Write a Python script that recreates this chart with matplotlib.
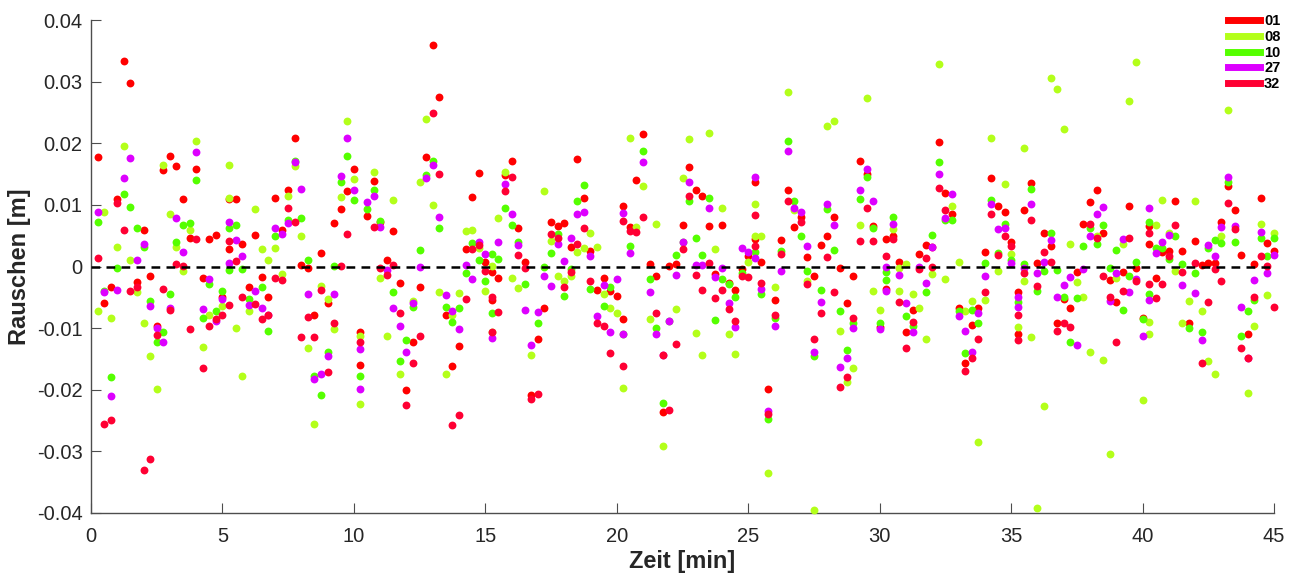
import numpy as np
import matplotlib
matplotlib.use("Agg")
import matplotlib.pyplot as plt
from matplotlib.ticker import FuncFormatter

# Rauschen je Satellit: (Zeit [min], Rauschen [mm])
sat_01 = [(0.25,17.8),(0.5,-6.0),(0.75,-3.3),(1.0,10.9),(1.25,33.3),(1.5,29.8),(1.75,-2.5),(2.0,5.9),(2.25,-1.5),(2.5,-9.6),(2.75,15.6),(3.0,17.9),(3.25,16.3),(3.5,10.9),(3.75,4.6),(4.0,15.8),(4.25,-1.9),(4.5,4.4),(4.75,5.1),(5.0,-4.9),(5.25,10.9),(5.25,2.8),(5.5,10.9),(5.75,3.6),(6.0,-3.3),(6.25,5.1),(6.5,-1.7),(6.75,-4.9),(7.0,11.1),(7.25,6.0),(7.5,12.4),(7.75,20.8),(8.0,0.2),(8.25,-0.3),(8.5,-7.8),(8.75,2.2),(9.0,-5.9),(9.25,7.0),(9.5,9.4),(9.75,12.2),(10.0,15.8),(10.25,-10.6),(10.25,-16.0),(10.5,8.2),(10.75,13.9),(11.0,7.2),(11.25,1.1),(11.5,5.8),(11.75,-2.6),(12.0,-20.0),(12.25,-12.2),(12.5,-3.4),(12.75,17.8),(13.0,36.0),(13.25,27.6),(13.5,-7.8),(13.75,-16.2),(14.0,-12.9),(14.25,2.8),(14.5,11.3),(14.75,15.2),(15.0,0.7),(15.25,-0.9),(15.25,-5.5),(15.5,-1.9),(15.75,14.9),(16.0,17.1),(16.25,6.3),(16.5,0.8),(16.75,-20.9),(17.0,-11.7),(17.25,-6.8),(17.5,7.2),(17.75,6.5),(18.0,7.1),(18.25,3.2),(18.5,17.5),(18.75,11.2),(19.0,2.5),(19.25,-3.8),(19.5,-1.8),(19.75,-4.0),(20.0,-4.8),(20.25,9.8),(20.25,-8.5),(20.5,6.4),(20.75,14.1),(21.0,21.5),(21.25,0.4),(21.5,-1.6),(21.75,-23.6),(22.0,0.1),(22.25,0.4),(22.5,6.8),(22.75,16.2),(23.0,12.5),(23.25,11.4),(23.5,6.5),(23.75,-1.2),(24.0,6.8),(24.25,-2.7),(24.5,-3.8),(24.75,-0.4),(25.0,1.7),(25.25,13.8),(25.25,4.4),(25.5,0.7),(25.75,-19.9),(26.0,-5.4),(26.25,4.3),(26.5,12.4),(26.75,6.4),(27.0,8.0),(27.25,1.6),(27.5,-1.6),(27.75,3.5),(28.0,5.0),(28.25,8.1),(28.5,-0.3),(28.75,-6.0),(29.0,-1.6),(29.25,17.1),(29.5,15.0),(29.75,6.5),(30.0,-9.8),(30.25,4.4),(30.25,-3.6),(30.5,5.0),(30.75,0.7),(31.0,-10.7),(31.25,-7.1),(31.5,2.1),(31.75,3.5),(32.0,3.2),(32.25,20.2),(32.5,11.9),(32.75,8.5),(33.0,-6.7),(33.25,-15.6),(33.5,-9.5),(33.75,-6.7),(34.0,2.4),(34.25,14.4),(34.5,9.8),(34.75,8.9),(35.0,3.9),(35.25,-4.1),(35.25,-11.0),(35.5,9.2),(35.75,13.5),(36.0,0.6),(36.25,5.4),(36.5,3.3),(36.75,-9.1),(37.0,-5.3),(37.25,-6.8),(37.5,-0.9),(37.75,6.9),(38.0,10.5),(38.25,12.5),(38.5,5.5),(38.75,-2.2),(39.0,-5.7),(39.25,-0.9),(39.5,9.9),(39.75,-0.2),(40.0,-8.3),(40.25,6.5),(40.25,3.6),(40.5,-1.8),(40.75,2.4),(41.0,2.5),(41.25,10.6),(41.5,2.5),(41.75,-9.1),(42.0,4.2),(42.25,0.3),(42.5,0.5),(42.75,0.5),(43.0,7.3),(43.25,13.1),(43.5,9.2),(43.75,1.9),(44.0,-11.0),(44.25,0.4),(44.5,11.2),(44.75,3.8),(45.0,2.5)]

sat_08 = [(0.25,-7.3),(0.5,8.9),(0.75,-8.3),(1.0,3.2),(1.25,19.6),(1.5,1.1),(1.75,-4.1),(2.0,-9.1),(2.25,-14.6),(2.5,-19.9),(2.75,16.4),(3.0,8.6),(3.25,3.2),(3.5,-0.8),(3.75,5.9),(4.0,20.3),(4.25,-13.0),(4.5,-7.9),(5.0,-6.4),(5.25,16.5),(5.25,11.1),(5.5,-10.0),(5.75,-17.8),(6.0,-7.3),(6.25,9.4),(6.5,2.9),(6.75,1.1),(7.0,3.0),(7.25,-1.2),(7.5,11.4),(7.75,16.3),(8.0,5.0),(8.25,-13.3),(8.5,-25.6),(8.75,-3.1),(9.0,-5.3),(9.25,-10.2),(9.5,11.3),(9.75,23.7),(10.0,14.2),(10.25,-11.3),(10.25,-22.3),(10.75,15.4),(11.0,-1.8),(11.25,-11.3),(11.5,10.8),(11.75,-17.4),(12.25,-5.6),(12.5,13.7),(12.75,24.0),(13.0,10.0),(13.25,-4.2),(13.5,-17.4),(13.75,-7.8),(14.0,-4.3),(14.25,5.8),(14.5,5.9),(14.75,3.0),(15.0,-4.0),(15.25,0.1),(15.25,-10.6),(15.5,7.8),(15.75,15.4),(16.0,-1.8),(16.25,-3.5),(16.75,-14.3),(17.25,12.2),(17.5,4.1),(17.75,-1.6),(18.0,-2.3),(18.25,-1.5),(18.5,2.4),(18.75,3.0),(19.0,5.4),(19.25,3.1),(19.5,-4.4),(19.75,-6.8),(20.0,-7.5),(20.25,-19.7),(20.5,20.9),(20.75,6.4),(21.0,13.1),(21.25,-8.5),(21.5,6.9),(21.75,-29.1),(22.25,-6.9),(22.5,14.4),(22.75,20.7),(23.0,-10.8),(23.25,-14.3),(23.5,21.7),(23.75,2.8),(24.0,9.5),(24.25,-11.0),(24.5,-14.2),(25.0,0.7),(25.25,10.1),(25.25,5.0),(25.5,5.0),(25.75,-33.6),(26.0,-3.3),(26.5,28.4),(26.75,9.1),(27.25,-2.4),(27.5,-39.5),(28.0,22.8),(28.25,23.6),(28.5,-10.5),(28.75,-18.8),(29.0,-16.5),(29.25,6.7),(29.5,27.4),(29.75,-4.0),(30.0,-7.1),(30.5,6.1),(30.75,-0.2),(30.75,-4.0),(31.0,0.4),(31.25,-4.5),(31.5,-6.8),(31.75,-11.8),(32.0,-1.2),(32.25,32.8),(32.5,-2.1),(32.75,9.8),(33.0,0.7),(33.25,-7.2),(33.5,-5.6),(33.75,-28.5),(34.0,-5.4),(34.25,20.8),(34.5,-0.7),(34.75,13.4),(35.0,2.1),(35.25,-9.8),(35.5,19.2),(35.5,-2.4),(35.75,-11.4),(36.0,-39.2),(36.25,-22.6),(36.5,30.6),(36.75,28.8),(37.0,22.3),(37.25,3.7),(37.5,-2.5),(37.75,-4.9),(38.0,-13.8),(38.25,5.0),(38.5,-15.1),(38.75,-30.4),(39.0,-1.9),(39.25,3.6),(39.5,26.9),(39.75,33.2),(40.0,-21.7),(40.25,-9.0),(40.25,-10.9),(40.5,6.8),(40.75,10.8),(41.0,5.4),(41.25,-0.7),(41.5,-9.1),(41.75,-5.6),(42.0,10.7),(42.25,-7.3),(42.5,-15.4),(42.75,-17.4),(43.0,4.9),(43.25,25.4),(44.0,-20.5),(44.25,-9.6),(44.5,6.9),(44.75,-4.7),(45.0,5.4)]

sat_10 = [(0.25,7.3),(0.5,-3.9),(0.75,-18.0),(1.0,-0.2),(1.25,11.8),(1.5,9.6),(1.75,6.2),(2.0,3.2),(2.25,-5.6),(2.5,-12.2),(2.75,-10.6),(3.0,-4.4),(3.25,4.0),(3.5,6.7),(3.75,7.0),(4.0,14.0),(4.25,-8.3),(4.5,-2.9),(4.75,-7.3),(5.0,-4.0),(5.25,6.3),(5.25,-0.6),(5.5,6.7),(5.75,-0.4),(6.0,-5.3),(6.5,-3.3),(6.75,-10.4),(7.0,4.9),(7.5,7.6),(7.75,17.1),(8.0,7.9),(8.25,1.1),(8.5,-17.7),(8.75,-20.8),(9.0,-13.9),(9.25,0.1),(9.5,13.8),(9.75,17.9),(10.0,10.8),(10.25,-17.8),(10.5,9.4),(10.75,12.5),(11.0,7.4),(11.5,-4.2),(11.75,-15.4),(12.0,-12.0),(12.25,-6.6),(12.5,2.7),(12.75,14.9),(13.0,17.2),(13.25,6.2),(13.5,-6.6),(13.75,-9.0),(14.0,-6.7),(14.25,-1.1),(14.5,3.8),(14.75,1.1),(15.0,-2.4),(15.25,2.0),(15.25,-7.5),(15.5,1.2),(15.75,9.5),(16.0,6.7),(16.25,3.9),(16.5,-2.8),(17.0,-9.1),(17.25,0.0),(17.5,2.2),(17.75,5.3),(18.0,-4.8),(18.25,-0.4),(18.5,10.7),(18.75,13.3),(19.0,-3.7),(19.5,-6.4),(19.75,-3.3),(20.25,-11.0),(20.5,3.4),(21.0,18.7),(21.25,-2.1),(21.5,-10.0),(21.75,-22.1),(22.0,-8.8),(22.25,1.8),(22.5,4.0),(22.75,10.7),(23.0,4.6),(23.25,1.8),(23.5,11.1),(23.75,-8.7),(24.0,-2.1),(24.25,-2.8),(24.5,-4.9),(24.75,-1.0),(25.25,2.4),(25.5,-4.5),(25.75,-24.8),(26.0,-8.3),(26.25,2.5),(26.5,20.4),(26.75,10.6),(27.0,4.9),(27.25,-0.8),(27.5,-14.6),(27.75,-3.8),(28.0,9.3),(28.25,2.6),(28.5,-7.3),(28.75,-13.5),(29.0,-9.1),(29.25,10.9),(29.5,14.5),(29.75,6.2),(30.0,-9.1),(30.25,-0.9),(30.25,-2.2),(30.5,8.0),(31.0,-8.1),(31.25,-9.6),(31.75,-4.1),(32.0,5.1),(32.25,17.0),(32.5,7.6),(32.75,7.6),(33.0,-7.3),(33.25,-14.1),(33.5,-7.0),(33.75,-9.1),(34.0,0.5),(34.25,10.8),(34.5,2.2),(34.75,6.9),(35.0,1.0),(35.25,-5.7),(35.5,0.4),(35.75,12.6),(36.0,-4.0),(36.25,-0.8),(36.5,5.5),(36.75,-0.6),(37.0,-5.0),(37.25,-12.2),(37.5,-5.1),(37.75,3.4),(38.0,6.3),(38.25,3.7),(38.5,6.8),(38.75,-0.2),(39.0,2.6),(39.25,-7.0),(39.5,-1.5),(39.75,0.7),(40.0,-8.6),(40.25,7.3),(40.25,-4.5),(40.5,3.0),(40.75,3.0),(41.0,1.2),(41.25,5.0),(41.5,0.4),(41.75,-10.0),(42.0,-1.1),(42.25,-10.7),(42.5,3.0),(42.75,4.3),(43.0,3.8),(43.25,13.7),(43.5,4.0),(43.75,-11.3),(44.0,-7.2),(44.25,-5.5),(44.5,4.6),(44.75,1.7),(45.0,4.6)]

sat_27 = [(0.25,8.9),(0.5,-4.1),(0.75,-21.1),(1.0,-3.8),(1.25,14.4),(1.5,17.6),(1.75,1.1),(2.0,3.7),(2.25,-6.4),(2.5,-10.0),(2.75,-12.2),(3.0,-6.8),(3.25,7.9),(3.5,2.4),(4.0,18.6),(4.25,-6.9),(4.5,-2.1),(4.75,-8.9),(5.0,-5.2),(5.25,7.2),(5.25,0.6),(5.5,4.3),(5.75,1.7),(6.0,-6.2),(6.25,-4.0),(6.5,-6.7),(6.75,-7.9),(7.0,6.3),(7.25,5.3),(7.5,7.0),(7.75,16.9),(8.0,12.6),(8.25,-4.4),(8.5,-18.3),(8.75,-17.5),(9.0,-14.6),(9.25,-4.4),(9.5,14.7),(9.75,20.9),(10.0,12.5),(10.25,-13.4),(10.25,-19.9),(10.5,10.4),(10.75,11.5),(11.0,6.4),(11.25,-0.5),(11.5,-6.7),(11.75,-9.6),(12.0,-13.9),(12.25,-5.9),(12.5,0.0),(12.75,14.3),(13.0,16.4),(13.25,8.1),(13.5,-4.6),(13.75,-7.2),(14.0,-10.2),(14.25,0.2),(14.5,-2.0),(14.75,4.0),(15.0,2.1),(15.25,-11.6),(15.5,4.0),(15.75,13.4),(16.0,8.5),(16.25,3.5),(16.5,-7.0),(16.75,-12.7),(17.0,-7.4),(17.25,-1.6),(17.5,-3.1),(17.75,3.6),(18.0,0.9),(18.25,4.7),(18.5,8.5),(18.75,8.8),(19.0,1.7),(19.25,-8.0),(19.5,-3.0),(19.75,-10.6),(20.0,-2.0),(20.25,8.7),(20.25,-11.0),(20.5,2.2),(21.0,16.9),(21.25,-4.2),(21.5,-10.9),(21.75,-14.4),(22.0,-8.8),(22.25,-1.4),(22.5,4.0),(22.75,13.7),(23.0,0.2),(23.25,0.2),(23.5,9.5),(23.75,-1.7),(24.0,-0.3),(24.25,-6.0),(24.5,-9.8),(24.75,3.0),(25.0,2.4),(25.25,14.6),(25.25,1.4),(25.5,-3.7),(25.75,-23.4),(26.0,-9.6),(26.25,-0.8),(26.5,18.8),(26.75,9.5),(27.0,8.8),(27.25,3.3),(27.5,-13.8),(27.75,-5.7),(28.0,10.1),(28.25,6.8),(28.5,-16.3),(28.75,-14.9),(29.0,-10.0),(29.25,12.4),(29.5,15.9),(29.75,10.6),(30.0,-10.1),(30.25,0.0),(30.25,-4.0),(30.5,6.9),(30.75,-1.4),(31.0,-5.9),(31.25,-10.7),(31.5,0.0),(31.75,-2.7),(32.0,3.2),(32.25,15.0),(32.5,7.8),(32.75,11.7),(33.0,-8.1),(33.25,-10.5),(33.5,-13.8),(33.75,-7.5),(34.0,-1.5),(34.25,10.1),(34.5,6.1),(34.75,6.2),(35.0,0.5),(35.25,-5.0),(35.25,-6.6),(35.5,-0.3),(35.75,10.1),(36.0,-1.1),(36.25,0.7),(36.5,4.3),(36.75,-4.9),(37.0,-3.0),(37.25,-1.7),(37.5,-12.8),(37.75,-0.4),(38.0,4.9),(38.25,8.5),(38.5,9.6),(38.75,-5.6),(39.0,-1.1),(39.25,4.4),(39.5,-4.2),(39.75,-2.1),(40.0,-11.2),(40.25,9.5),(40.25,-5.5),(40.5,2.2),(40.75,3.9),(41.0,5.1),(41.5,-3.0),(42.0,-4.3),(42.25,-11.9),(42.5,3.5),(42.75,1.7),(43.0,6.4),(43.25,14.6),(43.5,6.5),(43.75,-6.5),(44.0,-14.8),(44.25,-2.2),(44.5,5.6),(44.75,-1.1),(45.0,1.8)]

sat_32 = [(0.25,1.4),(0.5,-25.5),(0.75,-24.9),(1.0,10.3),(1.25,5.9),(1.5,-4.0),(1.75,-3.4),(2.0,-33.0),(2.25,-31.3),(2.5,-11.1),(2.75,-3.7),(3.0,-7.0),(3.25,0.4),(3.5,0.1),(3.75,-10.2),(4.0,4.4),(4.25,-16.4),(4.5,-9.6),(4.75,-8.5),(5.0,-7.8),(5.25,4.1),(5.25,-6.2),(5.5,0.9),(5.75,-4.9),(6.25,-6.1),(6.5,-8.5),(6.75,-7.8),(7.0,-1.8),(7.25,-2.2),(7.5,9.5),(7.75,7.2),(8.0,-11.4),(8.25,-8.2),(8.5,-11.4),(8.75,-3.8),(9.0,-17.2),(9.25,-9.1),(9.5,0.1),(9.75,5.3),(10.25,-12.2),(10.75,6.4),(11.0,-0.3),(11.25,-1.4),(11.5,0.2),(11.75,-7.5),(12.0,-22.5),(12.25,-15.6),(12.5,-11.3),(13.0,24.9),(13.25,15.1),(13.75,-25.8),(14.0,-24.1),(14.25,-5.3),(14.5,2.8),(14.75,3.5),(15.0,-0.7),(15.25,-4.9),(15.25,-10.7),(15.5,-7.4),(15.75,12.2),(16.0,14.6),(16.25,1.8),(16.5,-0.3),(16.75,-21.5),(17.0,-20.7),(17.5,5.3),(17.75,4.7),(18.0,-3.3),(18.25,-0.9),(18.5,3.6),(18.75,6.3),(19.0,-2.4),(19.25,-9.2),(19.5,-9.6),(19.75,-14.0),(20.25,7.4),(20.25,-16.1),(20.5,5.8),(20.75,5.6),(21.0,8.0),(21.5,-7.5),(21.75,-14.4),(22.0,-23.3),(22.25,-12.6),(22.5,2.8),(22.75,11.5),(23.0,-1.4),(23.25,-3.8),(23.5,0.5),(23.75,-5.1),(24.0,-3.8),(24.25,-6.9),(24.5,-8.8),(24.75,-1.5),(25.0,-1.7),(25.25,8.3),(25.25,3.3),(25.5,-2.7),(25.75,-24.0),(26.0,-7.9),(26.25,2.1),(26.5,10.6),(27.0,7.3),(27.25,-2.9),(27.5,-11.8),(27.75,-7.5),(28.0,1.6),(28.25,-4.2),(28.5,-19.6),(28.75,-17.9),(29.0,-8.3),(29.25,4.2),(29.5,9.5),(29.75,4.1),(30.25,1.7),(30.5,4.4),(30.75,-5.7),(31.0,-13.2),(31.25,-9.0),(31.5,-0.4),(31.75,1.4),(32.0,0.0),(32.25,12.8),(32.5,9.2),(33.25,-16.9),(33.5,-14.9),(33.75,-11.8),(34.0,-4.1),(34.25,8.6),(34.5,1.8),(34.75,4.9),(35.0,3.4),(35.25,-7.9),(35.25,-11.9),(35.5,-1.0),(35.75,7.6),(36.0,-3.1),(36.25,2.3),(36.5,0.7),(36.75,-10.5),(37.0,-9.1),(37.25,-9.9),(38.0,6.9),(38.25,4.7),(38.5,-1.5),(38.75,-4.9),(39.0,-12.2),(39.25,-4.0),(39.5,4.6),(39.75,-2.3),(40.25,5.4),(40.25,-2.8),(40.5,-5.1),(40.75,-2.9),(41.0,1.7),(41.25,6.8),(41.5,-0.9),(42.0,0.5),(42.25,-15.6),(42.5,-5.7),(42.75,-0.4),(43.0,-2.4),(43.25,10.3),(43.5,6.1),(43.75,-13.2),(44.0,-14.8),(44.25,-4.9),(44.5,1.7),(44.75,0.1),(45.0,-6.5)]

satelliten = ["01", "08", "10", "27", "32"]
daten = [sat_01, sat_08, sat_10, sat_27, sat_32]
farben = ["#ff0000", "#b3ff1a", "#55ff00", "#dd00ff", "#ff0033"]

plt.rcParams['font.family'] = ['Liberation Sans', 'DejaVu Sans']

fig = plt.figure(figsize=(13, 5.75), dpi=100)
ax = fig.add_axes([0.070, 0.108, 0.910, 0.857])

for name, d, c in zip(satelliten, daten, farben):
    arr = np.array(d)
    ax.scatter(arr[:, 0], arr[:, 1] / 1000.0, s=32, color=c, linewidths=0,
               zorder=3, clip_on=False)
    ax.plot([], [], color=c, lw=5, label=name)

ax.axhline(0, color="black", ls=(0, (3.5, 2.5)), lw=1.8, zorder=4)

ax.set_xlim(0, 45)
ax.set_ylim(-0.04, 0.04)
ax.set_xticks(np.arange(0, 46, 5))
ax.set_yticks(np.arange(-0.04, 0.0401, 0.01))
ax.yaxis.set_major_formatter(FuncFormatter(lambda v, p: "0" if abs(v) < 1e-9 else "%g" % round(v, 2)))

for s in ["top", "right"]:
    ax.spines[s].set_visible(False)
for s in ["left", "bottom"]:
    ax.spines[s].set_color("#4d4d4d")
    ax.spines[s].set_linewidth(1.0)
ax.tick_params(direction="in", length=7, width=0.8, color="#4d4d4d",
               labelsize=14.5, labelcolor="#262626")
ax.tick_params(axis="y", pad=6)
ax.tick_params(axis="x", pad=10)

ax.set_xlabel("Zeit [min]", fontsize=17, fontweight="bold", color="#262626", labelpad=3)
ax.set_ylabel("Rauschen [m]", fontsize=17, fontweight="bold", color="#262626", labelpad=4)

leg = ax.legend(loc="upper right", bbox_to_anchor=(1.008, 1.018), frameon=False,
                prop={"weight": "bold", "size": 10.5}, handlelength=2.2,
                handletextpad=0.3, labelspacing=0.12, borderaxespad=0.0,
                borderpad=0.2)

fig.savefig("out.png", dpi=100)
